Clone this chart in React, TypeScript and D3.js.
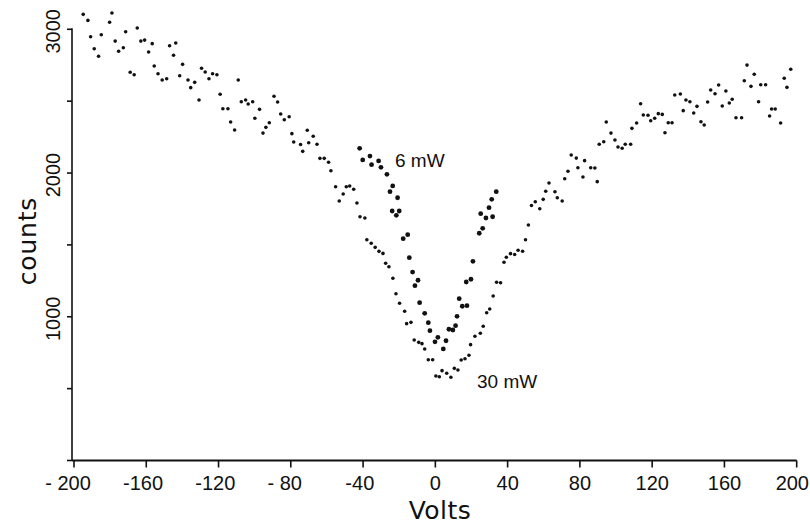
import React from "react";
import * as d3 from "d3";

// 30 mW series (small dots)
const volts30 = [
  -194.9, -192.3, -190.8, -188.8, -186.4, -184.9, -180.3, -179.0, -177.2, -175.3,
  -172.7, -171.4, -168.9, -166.7, -165.0, -163.0, -160.9, -158.7, -156.7, -155.6,
  -153.5, -151.2, -148.7, -147.1, -144.9, -143.7, -141.5, -139.9, -136.9, -135.4,
  -133.2, -130.8, -129.4, -127.4, -125.3, -123.3, -120.9, -119.1, -117.6, -114.8,
  -113.3, -111.1, -109.1, -107.4, -105.0, -103.6, -101.1, -99.9, -97.3, -95.4,
  -93.8, -91.9, -89.3, -87.3, -85.6, -83.6, -80.9, -79.4, -78.4, -74.6,
  -73.4, -70.9, -70.1, -67.6, -65.5, -63.9, -61.5, -59.1, -57.8, -55.2,
  -53.2, -51.0, -49.3, -47.4, -45.2, -43.4, -41.7, -39.0, -37.9, -35.5,
  -33.3, -31.2, -29.0, -27.5, -25.7, -23.5, -21.8, -19.8, -17.0, -15.9,
  -13.5, -11.7, -9.2, -7.4, -5.9, -3.9, -1.5, 0.3, 2.2, 3.7,
  6.3, 8.6, 10.5, 12.5, 14.3, 16.4, 18.6, 19.5, 21.9, 24.9,
  26.5, 28.4, 30.1, 32.0, 33.9, 36.1, 38.0, 39.3, 41.6, 43.9,
  45.8, 48.3, 49.9, 51.5, 53.2, 55.3, 57.8, 59.7, 61.1, 62.9,
  66.2, 67.5, 70.2, 71.6, 73.4, 75.2, 78.0, 78.9, 81.7, 82.6,
  86.0, 88.3, 89.6, 90.7, 93.2, 94.6, 97.2, 99.4, 101.1, 103.4,
  105.1, 108.1, 108.8, 111.4, 113.6, 115.1, 117.7, 119.2, 121.4, 123.4,
  125.6, 127.1, 128.9, 131.0, 132.5, 135.6, 137.2, 138.7, 140.9, 143.0,
  144.8, 147.0, 148.8, 150.7, 152.4, 154.8, 156.8, 158.8, 160.8, 162.7,
  164.3, 166.4, 169.5, 171.0, 172.5, 174.7, 176.5, 178.9, 180.1, 182.8,
  185.0, 186.1, 188.1, 191.1, 193.1, 194.6, 196.7,
];
const counts30 = [
  3104, 3062, 2948, 2865, 2812, 2962, 3049, 3113, 2918, 2847,
  2872, 2983, 2701, 2684, 3009, 2918, 2925, 2842, 2900, 2745,
  2691, 2647, 2656, 2886, 2819, 2905, 2677, 2756, 2647, 2594,
  2631, 2508, 2729, 2703, 2656, 2691, 2684, 2548, 2447, 2447,
  2355, 2299, 2647, 2496, 2508, 2480, 2496, 2381, 2443, 2278,
  2318, 2350, 2534, 2494, 2411, 2371, 2392, 2274, 2216, 2198,
  2151, 2298, 2211, 2256, 2200, 2102, 2102, 2075, 2016, 1905,
  1805, 1854, 1905, 1910, 1887, 1791, 1696, 1687, 1536, 1511,
  1483, 1455, 1441, 1372, 1348, 1268, 1160, 1094, 1038, 952,
  961, 838, 822, 813, 776, 701, 701, 588, 583, 625,
  607, 579, 641, 630, 699, 708, 732, 806, 864, 885,
  934, 1028, 1054, 1144, 1240, 1237, 1379, 1414, 1439, 1433,
  1463, 1456, 1536, 1638, 1774, 1800, 1751, 1817, 1873, 1931,
  1870, 1828, 1805, 1960, 2012, 2125, 2104, 2037, 1972, 2086,
  2037, 2035, 1940, 2200, 2218, 2355, 2278, 2230, 2181, 2172,
  2200, 2200, 2311, 2348, 2482, 2404, 2402, 2364, 2381, 2413,
  2408, 2280, 2350, 2350, 2543, 2550, 2434, 2508, 2496, 2418,
  2464, 2357, 2334, 2494, 2578, 2552, 2612, 2466, 2571, 2487,
  2513, 2385, 2385, 2642, 2751, 2603, 2687, 2496, 2614, 2614,
  2397, 2445, 2445, 2348, 2659, 2596, 2722,
];

// 6 mW series (larger dots)
const volts6 = [
  -41.9, -40.2, -36.2, -35.3, -31.4, -30.1, -26.8, -25.1, -23.9, -23.6,
  -21.6, -20.9, -20.0, -17.8, -15.3, -14.4, -12.6, -11.3, -9.6, -8.7,
  -5.9, -3.9, -3.0, -0.2, 1.4, 4.4, 5.9, 7.5, 9.7, 11.2,
  12.0, 13.2, 14.9, 17.1, 17.5, 19.7, 20.8, 24.3, 25.1, 26.2,
  28.0, 29.7, 31.2, 31.7, 33.7,
];
const counts6 = [
  2172, 2091, 2118, 2058, 2084, 2040, 1991, 1870, 1736, 1910,
  1706, 1828, 1736, 1543, 1571, 1411, 1311, 1216, 1254, 1098,
  1024, 959, 903, 826, 857, 776, 833, 913, 908, 938,
  1003, 1126, 1073, 1242, 1077, 1261, 1386, 1581, 1717, 1615,
  1687, 1759, 1817, 1696, 1870,
];

const xTickValues = [-200, -160, -120, -80, -40, 0, 40, 80, 120, 160, 200];
const xTickLabels = ["- 200", "-160", "-120", "- 80", "-40", "0", "40", "80", "120", "160", "200"];
const yTickValues = [0, 500, 1000, 1500, 2000, 2500, 3000];
const yLabelValues = [1000, 2000, 3000];
const seriesLabels = ["6 mW", "30 mW"];

export default function App() {
  const x = d3.scaleLinear().domain([-200, 200]).range([74, 796.7]);
  const y = d3.scaleLinear().domain([0, 3000]).range([460.5, 29.3]);

  const pts30 = volts30.map((v, i) => ({ v, c: counts30[i] }));
  const pts6 = volts6.map((v, i) => ({ v, c: counts6[i] }));

  const axisX = 72;
  const tickFont = "'Liberation Sans', Arial, sans-serif";
  const titleFont = "'DejaVu Sans', sans-serif";

  return (
    <svg
      width={810}
      height={525}
      viewBox="0 0 810 525"
      style={{ position: "absolute", left: 0, top: 0, background: "#fff" }}
    >
      <rect x={0} y={0} width={810} height={525} fill="#fff" />
      {/* axes */}
      <line x1={axisX} x2={x(200)} y1={y(0)} y2={y(0)} stroke="#111" strokeWidth={2} />
      <line x1={axisX} x2={axisX} y1={y(0)} y2={y(3000) - 1} stroke="#111" strokeWidth={1.6} />
      {xTickValues.map((t, i) => {
        const label = xTickLabels[i];
        const digits = String(Math.abs(t)).length;
        const endX = Math.min(x(t) + digits * 5.6, 809);
        return (
          <g key={"xt" + t}>
            <line x1={x(t)} x2={x(t)} y1={y(0)} y2={y(0) + 7} stroke="#111" strokeWidth={1.6} />
            <text
              x={endX}
              y={490}
              textAnchor="end"
              fontFamily={tickFont}
              fontSize={20}
              fill="#111"
            >
              {label}
            </text>
          </g>
        );
      })}
      {yTickValues.map((t) => (
        <line key={"yt" + t} x1={axisX - 5} x2={axisX} y1={y(t)} y2={y(t)} stroke="#111" strokeWidth={1.6} />
      ))}
      {yLabelValues.map((t) => (
        <text
          key={"yl" + t}
          transform={`translate(53,${y(t) + 2}) rotate(-90)`}
          textAnchor="middle"
          dominantBaseline="central"
          fontFamily={tickFont}
          fontSize={20}
          fill="#111"
        >
          {t}
        </text>
      ))}
      {/* axis titles */}
      <text x={440} y={519} textAnchor="middle" fontFamily={titleFont} fontSize={25} fill="#111" letterSpacing={0.5}>
        Volts
      </text>
      <text
        transform="translate(27,241) rotate(-90)"
        textAnchor="middle"
        dominantBaseline="central"
        fontFamily={titleFont}
        fontSize={25}
        fill="#111"
        letterSpacing={0.8}
      >
        counts
      </text>
      {/* data */}
      {pts30.map((p, i) => (
        <circle key={"a" + i} cx={x(p.v)} cy={y(p.c)} r={1.8} fill="#111" />
      ))}
      {pts6.map((p, i) => (
        <circle key={"b" + i} cx={x(p.v)} cy={y(p.c)} r={2.4} fill="#111" />
      ))}
      {/* series labels */}
      <text x={395} y={167} fontFamily={tickFont} fontSize={19} fill="#111">
        {seriesLabels[0]}
      </text>
      <text x={477} y={388} fontFamily={tickFont} fontSize={19} fill="#111">
        {seriesLabels[1]}
      </text>
    </svg>
  );
}
